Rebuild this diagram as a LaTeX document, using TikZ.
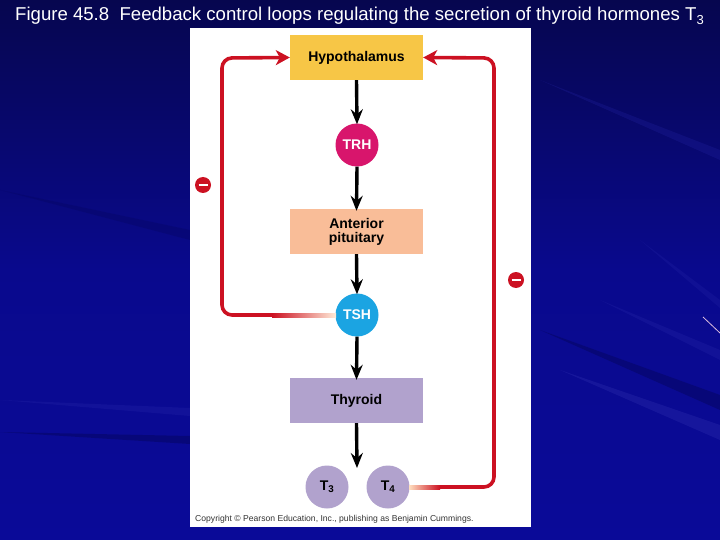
\documentclass[tikz,border=0pt]{standalone}
\usepackage{fontspec}
\setmainfont{Liberation Sans}
\usetikzlibrary{arrows.meta}
\definecolor{bgtop}{HTML}{06064F}
\definecolor{bgbot}{HTML}{0A0A98}
\definecolor{raylight}{HTML}{2626A8}
\definecolor{raydark}{HTML}{050560}
\definecolor{hypo}{HTML}{F7C646}
\definecolor{antpit}{HTML}{F9BD98}
\definecolor{thyr}{HTML}{B1A2CD}
\definecolor{trhc}{HTML}{D8156C}
\definecolor{tshc}{HTML}{1BA4E2}
\definecolor{loopred}{HTML}{CC1122}
\tikzset{
  gland/.style={rectangle, minimum width=133pt, minimum height=45pt, inner sep=0pt, font=\bfseries\fontsize{14}{15}\selectfont, align=center},
  hormone/.style={circle, minimum size=43pt, inner sep=0pt, font=\bfseries\fontsize{14}{15}\selectfont},
  flow/.style={draw=black, line width=3.4pt, -{Stealth[length=15pt,width=12pt,inset=5pt]}},
  fb/.style={draw=loopred, line width=3.6pt, rounded corners=10pt},
  fbarrow/.style={fb, -{Stealth[length=14pt,width=15pt,inset=4pt]}},
  minus/.style={circle, fill=loopred, minimum size=16pt, inner sep=0pt},
}
\begin{document}
\begin{tikzpicture}[x=1pt,y=-1pt]
\useasboundingbox (0,0) rectangle (720,540);
\shade[top color=bgtop, bottom color=bgbot, middle color=bgbot!85!bgtop] (0,0) rectangle (720,540);
% faint background rays
\begin{scope}
\clip (0,0) rectangle (720,540);
\fill[raylight, opacity=0.45] (560,370) -- (720,425) -- (720,440) -- cycle;
\fill[raylight, opacity=0.3] (600,300) -- (720,350) -- (720,360) -- cycle;
\fill[raydark, opacity=0.5] (540,330) -- (720,395) -- (720,410) -- cycle;
\fill[raylight, opacity=0.25] (640,240) -- (720,300) -- (720,308) -- cycle;
\fill[raylight, opacity=0.3] (0,400) -- (190,408) -- (190,416) -- cycle;
\fill[raydark, opacity=0.5] (0,432) -- (190,436) -- (190,444) -- cycle;
\fill[raydark, opacity=0.35] (0,190) -- (190,230) -- (190,240) -- cycle;
\fill[raylight, opacity=0.25] (540,80) -- (720,150) -- (720,160) -- cycle;
\end{scope}
\draw[white!75!violet, line width=0.8pt] (703,317) -- (720,333);
% title
\node[anchor=base west, inner sep=0pt, text=white, font=\fontsize{18.6}{20}\selectfont] (title) at (15,21) {Figure 45.8\ \ Feedback control loops regulating the secretion of thyroid hormones T\textsubscript{3}};
% white panel
\fill[white] (190,28) rectangle (531,527);
% glands
\node[gland, fill=hypo] (hyp) at (356.5,57.5) {Hypothalamus};
\node[gland, fill=antpit] (ant) at (356.5,231.5) {Anterior\\[-1pt]pituitary};
\node[gland, fill=thyr] (thy) at (356.5,400.5) {Thyroid};
% hormones
\node[hormone, fill=trhc, text=white] (trh) at (357,145) {TRH};
\node[hormone, fill=tshc, text=white] (tsh) at (357,315) {TSH};
\node[hormone, fill=thyr, text=black] (t3) at (327,487) {T\textsubscript{3}};
\node[hormone, fill=thyr, text=black] (t4) at (388,487) {T\textsubscript{4}};
\coordinate (thyend) at (357,468);
% main flow
\draw[flow] (hyp.south) -- ([yshift=-1pt]trh.north);
\draw[flow] (trh.south) -- ([yshift=-2pt]ant.north);
\draw[flow] (ant.south) -- ([yshift=-1pt]tsh.north);
\draw[flow] (tsh.south) -- ([yshift=-2pt]thy.north);
\draw[flow] (thy.south) -- (thyend);
% feedback loops
\coordinate (lA) at (222,315);
\coordinate (lB) at (222,58);
\coordinate (rA) at (494,487);
\coordinate (rB) at (494,58);
\draw[fbarrow] (tsh.west) -- (lA) -- (lB) -- (hyp.west);
\draw[fbarrow] (t4.east) -- (rA) -- (rB) -- (hyp.east);
% fading ends
\shade[left color=loopred, right color=white!85!orange] (272,313) rectangle (336,317);
\shade[left color=white!75!orange, right color=loopred] (409,485) rectangle (440,489);
% minus signs
\node[minus] (m1) at (203,185) {};
\draw[white, line width=2.4pt] ([xshift=-4.5pt]m1.center) -- ([xshift=4.5pt]m1.center);
\node[minus] (m2) at (516,280) {};
\draw[white, line width=2.4pt] ([xshift=-4.5pt]m2.center) -- ([xshift=4.5pt]m2.center);
% copyright
\node[anchor=base west, inner sep=0pt, font=\fontsize{8.6}{9}\selectfont, text=black!80] (copy) at (195,521) {Copyright \textcopyright\ Pearson Education, Inc., publishing as Benjamin Cummings.};
\end{tikzpicture}
\end{document}
